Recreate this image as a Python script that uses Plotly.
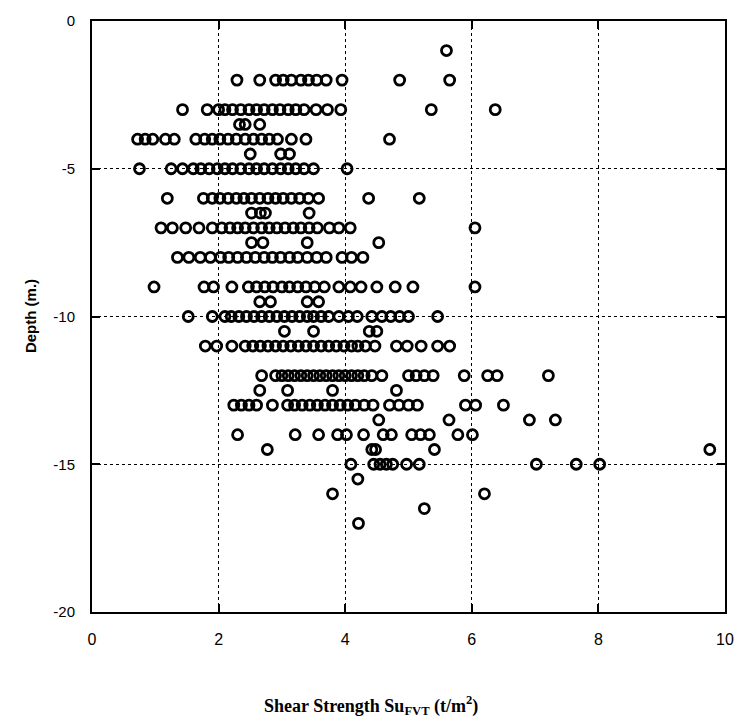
import plotly.graph_objects as go

# Shear strength Su (t/m^2) read at each depth (m.)
su_1 = [5.6]
su_2 = [2.29, 2.65, 2.9, 3.02, 3.15, 3.3, 3.42, 3.55, 3.7, 3.95, 4.86, 5.65]
su_3 = [1.43, 1.82, 2.0, 2.1, 2.22, 2.35, 2.48, 2.6, 2.72, 2.85, 2.97, 3.1, 3.22, 3.35, 3.54, 3.72, 3.93, 5.36, 6.37]
su_3_5 = [2.33, 2.42, 2.65]
su_4 = [0.72, 0.84, 0.96, 1.16, 1.3, 1.64, 1.78, 1.9, 2.02, 2.15, 2.28, 2.42, 2.55, 2.68, 2.8, 2.93, 3.15, 3.38, 4.7]
su_4_5 = [2.5, 2.98, 3.12]
su_5 = [0.75, 1.25, 1.43, 1.6, 1.72, 1.85, 1.98, 2.1, 2.22, 2.35, 2.48, 2.6, 2.72, 2.85, 2.98, 3.1, 3.22, 3.35, 3.5, 4.03]
su_6 = [1.19, 1.76, 1.9, 2.02, 2.15, 2.28, 2.4, 2.52, 2.65, 2.78, 2.9, 3.02, 3.15, 3.28, 3.42, 3.58, 4.37, 5.17]
su_6_5 = [2.52, 2.66, 2.74, 3.43]
su_7 = [1.09, 1.27, 1.48, 1.69, 1.9, 2.05, 2.18, 2.3, 2.42, 2.55, 2.68, 2.8, 2.92, 3.05, 3.18, 3.3, 3.43, 3.56, 3.75, 3.9, 4.08, 6.05]
su_7_5 = [2.52, 2.7, 3.4, 4.53]
su_8 = [1.35, 1.53, 1.71, 1.87, 2.03, 2.16, 2.3, 2.44, 2.58, 2.72, 2.85, 2.98, 3.12, 3.25, 3.4, 3.55, 3.7, 3.95, 4.1, 4.28]
su_9 = [0.98, 1.77, 1.92, 2.21, 2.47, 2.6, 2.73, 2.86, 3.0, 3.12, 3.25, 3.38, 3.52, 3.67, 3.9, 4.08, 4.25, 4.5, 4.79, 5.07, 6.05]
su_9_5 = [2.65, 2.82, 3.4, 3.58]
su_10 = [1.52, 1.9, 2.1, 2.2, 2.32, 2.44, 2.56, 2.68, 2.8, 2.92, 3.04, 3.16, 3.28, 3.4, 3.5, 3.62, 3.74, 3.9, 4.05, 4.19, 4.42, 4.58, 4.72, 4.86, 5.0, 5.46]
su_10_5 = [3.04, 3.5, 4.38, 4.5]
su_11 = [1.79, 1.97, 2.21, 2.42, 2.54, 2.66, 2.78, 2.9, 3.02, 3.14, 3.26, 3.38, 3.5, 3.62, 3.74, 3.86, 3.98, 4.1, 4.2, 4.32, 4.47, 4.81, 4.98, 5.2, 5.46, 5.65]
su_12 = [2.68, 2.9, 3.0, 3.1, 3.2, 3.3, 3.4, 3.5, 3.6, 3.7, 3.8, 3.9, 4.0, 4.1, 4.2, 4.3, 4.42, 4.58, 5.0, 5.12, 5.25, 5.39, 5.88, 6.25, 6.4, 7.21]
su_12_5 = [2.65, 3.09, 3.8, 4.81]
su_13 = [2.24, 2.36, 2.48, 2.6, 2.85, 3.09, 3.2, 3.32, 3.44, 3.56, 3.68, 3.8, 3.92, 4.04, 4.16, 4.3, 4.44, 4.7, 4.85, 5.0, 5.14, 5.9, 6.06, 6.5]
su_13_5 = [4.53, 5.64, 6.91, 7.32]
su_14 = [2.3, 3.21, 3.58, 3.88, 4.02, 4.29, 4.6, 4.73, 5.05, 5.19, 5.33, 5.78, 6.01]
su_14_5 = [2.77, 4.42, 4.48, 5.41, 9.76]
su_15 = [4.09, 4.45, 4.55, 4.65, 4.75, 4.97, 5.17, 7.02, 7.65, 8.02]
su_15_5 = [4.2]
su_16 = [3.8, 6.2]
su_16_5 = [5.25]
su_17 = [4.21]

depths = [-1, -2, -3, -3.5, -4, -4.5, -5, -6, -6.5, -7, -7.5, -8, -9, -9.5,
          -10, -10.5, -11, -12, -12.5, -13, -13.5, -14, -14.5, -15, -15.5,
          -16, -16.5, -17]
su_rows = [su_1, su_2, su_3, su_3_5, su_4, su_4_5, su_5, su_6, su_6_5, su_7,
           su_7_5, su_8, su_9, su_9_5, su_10, su_10_5, su_11, su_12, su_12_5,
           su_13, su_13_5, su_14, su_14_5, su_15, su_15_5, su_16, su_16_5, su_17]

x_ticks = [0, 2, 4, 6, 8, 10]
y_ticks = [0, -5, -10, -15, -20]

xs, ys = [], []
for d, row in zip(depths, su_rows):
    for v in row:
        xs.append(v)
        ys.append(d)

fig = go.Figure()
fig.add_trace(go.Scatter(
    x=xs, y=ys, mode="markers",
    marker=dict(symbol="circle-open", size=10, color="black",
                line=dict(width=2.8, color="black")),
    showlegend=False, cliponaxis=False,
))

axis_common = dict(
    showline=True, linecolor="black", linewidth=2, mirror="ticks",
    ticks="inside", ticklen=8, tickwidth=2, tickcolor="black",
    showgrid=True, gridcolor="black", gridwidth=1, griddash="dot",
    zeroline=False,
)

fig.update_xaxes(range=[0, 10], tickvals=x_ticks, ticktext=[str(v) for v in x_ticks],
                 tickfont=dict(family="Liberation Sans, Arial", size=16, color="black"),
                 ticklabelstandoff=12, **axis_common)
fig.update_yaxes(range=[-20, 0], tickvals=y_ticks, ticktext=[str(v) for v in y_ticks],
                 tickfont=dict(family="Liberation Sans, Arial", size=15, color="black"),
                 ticklabelstandoff=12, **axis_common)

fig.add_annotation(
    text="<b>Shear Strength Su<sub>FVT</sub> (t/m<sup>2</sup>)</b>",
    xref="paper", yref="paper", x=0.44, y=-0.159, xanchor="center", yanchor="middle",
    showarrow=False, font=dict(family="Liberation Serif, Times New Roman", size=18, color="black"),
)
fig.add_annotation(
    text="<b>Depth (m.)</b>",
    xref="paper", yref="paper", x=-0.097, y=0.5, xanchor="center", yanchor="middle",
    textangle=-90, showarrow=False,
    font=dict(family="Liberation Sans, Arial", size=15, color="black"),
)

fig.update_layout(
    width=746, height=727,
    margin=dict(l=92, r=13, t=16, b=115),
    paper_bgcolor="white", plot_bgcolor="white",
)

fig.write_html("out.html", config={"displayModeBar": False},
               post_script="document.body.style.margin='0';")
